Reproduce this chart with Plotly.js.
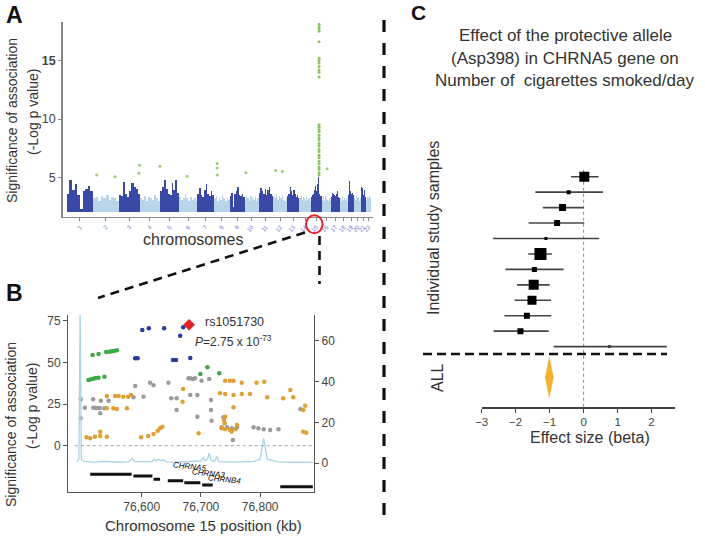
<!DOCTYPE html>
<html><head><meta charset="utf-8">
<script src="https://cdn.plot.ly/plotly-3.0.1.min.js"></script>
<style>html,body{margin:0;padding:0;background:#fff}#c{width:705px;height:536px}</style>
</head><body><div id="c"></div>
<script>
// ---------- Panel A: Manhattan plot data ----------
const chromNames = ['1','2','3','4','5','6','7','8','9','10','11','12','13','14','15','16','17','18','19','20','21','22'];
const chromLenMb = [249,243,198,191,181,171,159,146,141,135,135,133,115,107,102,90,81,78,59,63,48,51];
// estimated upper envelope of -log10 p in 10 bins per chromosome
const chromTop = [
  [3.6,4.8,3.9,4.4,3.5,2.3,3.8,4.0,4.3,3.8],
  [3.2,3.3,3.0,3.4,3.2,3.5,3.1,3.3,3.2,3.0],
  [3.5,3.4,4.6,3.6,3.3,3.8,4.5,4.2,4.0,3.6],
  [3.2,3.1,3.4,3.0,3.3,3.2,3.1,3.5,3.2,3.0],
  [3.8,4.2,4.8,4.0,3.6,3.5,4.5,3.9,4.8,3.7],
  [3.3,3.1,3.2,3.6,3.2,3.0,3.3,3.1,3.2,3.0],
  [3.6,4.1,3.5,3.3,3.9,4.4,3.6,3.4,3.8,3.5],
  [3.2,3.4,3.0,3.3,3.1,3.5,3.2,3.0,3.2,3.1],
  [3.4,3.7,2.5,3.6,3.8,4.2,3.5,3.4,3.6,3.3],
  [3.1,3.3,3.2,3.0,3.4,3.2,3.1,3.3,3.0,3.2],
  [3.7,4.1,3.8,3.6,4.0,3.5,3.9,4.2,3.6,3.4],
  [3.3,3.2,3.6,3.1,3.4,3.2,3.5,3.1,3.0,3.2],
  [3.4,3.6,4.2,3.8,3.5,3.9,3.6,3.3,3.5,3.2],
  [3.2,3.4,3.1,3.3,3.2,3.0,3.4,3.1,3.2,3.0],
  [3.3,3.5,3.6,3.9,4.3,3.8,4.4,5.0,3.6,3.4],
  [3.2,3.1,3.3,3.0,3.4,3.2,3.1,3.0,3.2,3.1],
  [3.3,3.7,3.6,3.9,3.5,3.4,3.6,3.8,3.3,3.2],
  [3.1,3.2,3.0,3.3,3.1,3.2,3.0,3.1,3.2,3.0],
  [3.5,4.4,4.7,4.0,3.8,3.6,3.4,3.7,3.5,3.3],
  [3.2,3.3,3.1,3.4,3.0,3.2,3.3,3.1,3.0,3.2],
  [3.6,4.2,4.5,4.1,3.8,3.5,3.4,3.9,3.6,3.3],
  [3.2,3.1,3.3,3.0,3.2,3.1,3.4,3.0,3.2,3.1]
];
const pBase = 2.0;
// suggestive hits (chromosome index, position Mb, -log10 p)
const hitChrom = [2,2,3,3,4,6,8,8,8,10,12,12,16];
const hitPosMb = [34,207,195,190,190,76,29,27,30,12,24,87,53];
const hitLogP  = [5.2,5.05,6.05,5.35,5.95,5.1,6.2,5.8,5.2,5.4,5.6,5.5,5.75];
// CHRNA5 locus on chromosome 15
const locusChrom = 15, locusPosMb = 78.8;
const locusLogP = [18.1,17.9,17.7,17.5,16.6,15.2,15.0,14.8,14.5,14.2,14.0,13.6,9.5,9.3,9.1,8.9,8.6,8.4,8.2,7.9,7.7,7.4,7.2,6.9,6.7,6.4,6.2,5.9,5.7,5.4,5.2];

// ---------- Panel B: regional plot data ----------
const leadKb = [76680], leadLogP = [72.56];
const blueKb = [76601,76612,76638,76670,76665,76589,76593,76653,76658,76682];
const blueLogP = [69.4,70.4,70.4,71.0,66.0,52.4,52.4,51.4,51.4,52.6];
const greenKb = [76517,76527,76540,76545,76549,76553,76558,76510,76514,76518,76522,76527,76537,76699,76711,76731];
const greenLogP = [54.4,55,56.2,56.4,56.6,56.8,57.2,39.4,39.8,40.2,40.6,40.8,41.4,43,47,43.4];
const grayKb = [76497,76518,76531,76544,76504,76518,76522,76525,76529,76537,76530,76497,76589,76614,76620,76645,76586,76603,76650,76659,76659,76679,76686,76682,76690,76701,76714,76682,76694,76717,76717,76694,76718,76738,76735,76744,76752,76761,76754,76789,76797,76806,76817,76831,76868];
const grayLogP = [27.8,27.8,27,27,22.8,22.8,22.6,22.6,22.6,22.4,19.4,16.4,35.8,37.8,36.2,37.8,29,29.4,28.4,28.4,21.4,40.4,40,40.4,40.4,39,40,30.4,30.4,27.4,21.4,17.4,15,17,11,11,10.4,11,3.4,11,10.4,9.8,9.4,9.8,22];
const orangeKb = [76507,76513,76521,76530,76541,76530,76541,76555,76561,76569,76577,76582,76541,76552,76558,76575,76599,76611,76620,76627,76631,76635,76670,76669,76741,76749,76755,76769,76794,76807,76732,76741,76755,76769,76783,76812,76839,76856,76851,76755,76876,76873,76741,76739,76740,76735,76741,76749,76758,76761,76752,76696,76873,76878];
const orangeLogP = [5,4.4,5.4,5.8,5.4,8.4,29.8,29.8,29.8,29.4,29.4,30.4,22.4,22.4,22,22.4,5,5.8,7,9,10.4,11.4,34,26.4,39,39,39,37.8,37.8,38.4,31.4,31,30.4,31,31,29,28.4,29,33.4,23,24,21.4,17.4,15.4,13.4,10.4,9.8,9.4,9.8,12.4,8.4,7.4,8.4,7.8];
const recombKb = [76490,76494,76496,76498,76503,76520,76540,76560,76578,76582,76584,76588,76605,76617,76621,76624,76628,76632,76637,76642,76660,76690,76700,76704,76707,76711,76714,76717,76723,76727,76730,76760,76790,76800,76806,76812,76830,76860,76890];
const recombRate = [0.8,2,75,2,0.9,0.6,0.9,0.5,0.8,2.2,2.4,0.8,0.6,0.8,1.8,1.2,1.9,1.4,1.6,0.7,0.6,0.8,1.1,2.8,1.2,2,4.9,1.5,0.9,3.3,0.8,0.6,0.9,2,12.2,2,0.7,0.5,0.4];
const geneStartKb = [76513,76586,76620,76644,76672,76702,76834];
const geneEndKb   = [76583,76618,76631,76670,76699,76720,76889];
const geneTrackY  = [-17.2,-18.2,-20.2,-21,-22.2,-23.6,-24.6];
const geneLabels  = ['CHRNA5','CHRNA3','CHRNB4'];
const geneLabelKb = [76648,76680,76707];
const geneLabelY  = [-12.6,-16.6,-20.2];

// ---------- Panel C: forest plot data ----------
const studyEst = [0.02,-0.44,-0.62,-0.78,-1.11,-1.27,-1.45,-1.47,-1.52,-1.67,-1.86,0.76];
const studyLo  = [-0.37,-1.42,-1.2,-1.62,-2.67,-1.63,-2.3,-1.96,-2.03,-2.33,-2.65,-0.88];
const studyHi  = [0.44,0.57,0.0,0.02,0.46,-0.93,-0.59,-1.0,-0.96,-0.95,-1.03,2.45];
const studyWeight = [10,4,7,6,3,12,5,10,9,6,6,3];
const allEst = -1.01, allLo = -1.13, allHi = -0.89;

// ---------- build traces ----------
const W = 705, H = 536;
const px = x => x / W, py = y => 1 - y / H;
const chromStart = [];
let acc = 0;
chromLenMb.forEach(l => { chromStart.push(acc); acc += l; });
const genomeLen = acc;
const chromCenter = chromLenMb.map((l, i) => chromStart[i] + l / 2);

const traces = [];
const dark = {x: [], y: [], w: []}, light = {x: [], y: [], w: []};
chromTop.forEach((arr, i) => {
  const bw = chromLenMb[i] / arr.length;
  const tgt = (i % 2 === 0) ? dark : light;
  arr.forEach((v, j) => {
    tgt.x.push(chromStart[i] + (j + 0.5) * bw);
    tgt.y.push(v - pBase);
    tgt.w.push(bw * 1.02);
  });
});
traces.push({type: 'bar', x: light.x, y: light.y, width: light.w, base: pBase, xaxis: 'x', yaxis: 'y',
  marker: {color: '#b8d4ea', line: {width: 0}}, hoverinfo: 'skip'});
traces.push({type: 'bar', x: dark.x, y: dark.y, width: dark.w, base: pBase, xaxis: 'x', yaxis: 'y',
  marker: {color: '#3a48a6', line: {width: 0}}, hoverinfo: 'skip'});
traces.push({type: 'scatter', mode: 'markers', xaxis: 'x', yaxis: 'y',
  x: hitChrom.map((c, k) => chromStart[c - 1] + hitPosMb[k]), y: hitLogP,
  marker: {color: '#9ccc78', size: 3}});
traces.push({type: 'scatter', mode: 'markers', xaxis: 'x', yaxis: 'y',
  x: locusLogP.map(() => chromStart[locusChrom - 1] + locusPosMb), y: locusLogP,
  marker: {color: '#8cc464', size: 3}});

// Panel B
traces.push({type: 'scatter', mode: 'lines', x: recombKb, y: recombRate, xaxis: 'x2', yaxis: 'y3',
  line: {color: '#a9d3e6', width: 1.3}});
const mk = (x, y, c, s, sym) => ({type: 'scatter', mode: 'markers', x: x, y: y, xaxis: 'x2', yaxis: 'y2',
  marker: {color: c, size: s, symbol: sym || 'circle'}});
traces.push(mk(grayKb, grayLogP, '#9b9b9b', 4.5));
traces.push(mk(orangeKb, orangeLogP, '#dea035', 4.5));
traces.push(mk(greenKb, greenLogP, '#3fa84a', 4.5));
traces.push(mk(blueKb, blueLogP, '#283a9c', 4.5));
traces.push(mk(leadKb, leadLogP, '#e3212b', 9, 'diamond'));
const gx = [], gy = [];
geneStartKb.forEach((s, i) => { gx.push(s, geneEndKb[i], null); gy.push(geneTrackY[i], geneTrackY[i], null); });
traces.push({type: 'scatter', mode: 'lines', x: gx, y: gy, xaxis: 'x2', yaxis: 'y2',
  line: {color: '#111', width: 3}, connectgaps: false});

// Panel C
const rows = studyEst.map((_, i) => i);
traces.push({type: 'scatter', mode: 'markers', x: studyEst, y: rows, xaxis: 'x3', yaxis: 'y4',
  error_x: {type: 'data', symmetric: false, array: studyHi.map((h, i) => h - studyEst[i]),
    arrayminus: studyLo.map((l, i) => studyEst[i] - l), color: '#444', thickness: 1.6, width: 0},
  marker: {symbol: 'square', size: studyWeight, opacity: 1, line: {width: 0},
    color: studyEst.map((_, i) => i === 11 ? '#444' : '#000')}});
const allRow = 13, allHalf = 1.3;
traces.push({type: 'scatter', mode: 'lines', xaxis: 'x3', yaxis: 'y4',
  x: [allLo, allEst, allHi, allEst, allLo], y: [allRow, allRow - allHalf, allRow, allRow + allHalf, allRow],
  fill: 'toself', fillcolor: '#f0b22e', line: {color: '#f0b22e', width: 0.5}});

// ---------- layout ----------
const fontFam = '"Liberation Sans", Arial, sans-serif';
const ann = (t, x, y, o) => Object.assign({text: t, x: px(x), y: py(y), xref: 'paper', yref: 'paper',
  xanchor: 'center', yanchor: 'middle',
  showarrow: false, font: {size: 14, color: '#333', family: fontFam}}, o || {});
const annotations = [
  ann('<b>A</b>', 14, 15, {font: {size: 23, color: '#111', family: fontFam}}),
  ann('<b>B</b>', 14, 293, {font: {size: 23, color: '#111', family: fontFam}}),
  ann('<b>C</b>', 418, 13, {font: {size: 21, color: '#111', family: fontFam}}),
  ann('Significance of association', 12, 121, {textangle: -90, font: {size: 14, color: '#333', family: fontFam}}),
  ann('(-Log p value)', 33, 112, {textangle: -90, font: {size: 14, color: '#333', family: fontFam}}),
  ann('chromosomes', 193, 240, {font: {size: 16, color: '#333', family: fontFam}}),
  ann('Significance of association', 11, 425, {textangle: -90, font: {size: 14, color: '#333', family: fontFam}}),
  ann('(-Log p value)', 32, 406, {textangle: -90, font: {size: 14, color: '#333', family: fontFam}}),
  ann('Chromosome 15 position (kb)', 203, 525, {font: {size: 15, color: '#333', family: fontFam}}),
  ann('Effect of the protective allele', 565, 35, {font: {size: 17, color: '#333', family: fontFam}}),
  ann('(Asp398) in CHRNA5 gene on', 565, 58, {font: {size: 17, color: '#333', family: fontFam}}),
  ann('Number of  cigarettes smoked/day', 564, 80, {font: {size: 17, color: '#333', family: fontFam}}),
  ann('Individual study samples', 433, 228, {textangle: -90, font: {size: 16, color: '#333', family: fontFam}}),
  ann('ALL', 437, 378, {textangle: -90, font: {size: 16, color: '#333', family: fontFam}}),
  ann('Effect size (beta)', 590, 437, {font: {size: 16, color: '#333', family: fontFam}}),
  {text: 'rs1051730', x: 76704, y: 74.4, xref: 'x2', yref: 'y2', xanchor: 'left', yanchor: 'middle', showarrow: false,
    font: {size: 12.5, color: '#333', family: fontFam}},
  {text: '<i>P</i>=2.75 x 10<sup>-73</sup>', x: 76687, y: 63, xref: 'x2', yref: 'y2', xanchor: 'left', yanchor: 'middle', showarrow: false,
    font: {size: 12, color: '#333', family: fontFam}}
];
geneLabels.forEach((g, i) => {
  annotations.push({text: '<i>' + g + '</i>', x: geneLabelKb[i], y: geneLabelY[i], xref: 'x2', yref: 'y2',
    xanchor: 'left', yanchor: 'middle', showarrow: false, textangle: 6, font: {size: 8, color: '#000', family: fontFam}});
});

const dashLine = (x0, y0, x1, y1, w, dash) => ({type: 'line', xref: 'paper', yref: 'paper',
  x0: px(x0), y0: py(y0), x1: px(x1), y1: py(y1), line: {color: '#111', width: w, dash: dash}});
const shapes = [
  dashLine(384, 20, 384, 518, 3.2, '12px,11px'),
  dashLine(305, 232.5, 98, 298, 2.6, '9px,6px'),
  dashLine(319.5, 236, 319.5, 284, 2.6, '9px,6px'),
  dashLine(423, 354, 667, 354, 2.6, '9px,5px'),
  {type: 'circle', xref: 'paper', yref: 'paper', x0: px(306), x1: px(322.6), y0: py(233.3), y1: py(215.2),
    line: {color: '#e0242a', width: 2}},
  {type: 'line', xref: 'x2', yref: 'y2', x0: 76487, x1: 76890, y0: 0, y1: 0,
    line: {color: '#a0a0a0', width: 1, dash: 'dot'}},
  {type: 'line', xref: 'x3', yref: 'y4', x0: 0, x1: 0, y0: -0.45, y1: 14.93,
    line: {color: '#888', width: 1, dash: 'dot'}, layer: 'below'}
];

const tickF = s => ({size: s, color: '#444', family: fontFam});
const layout = {
  width: W, height: H, margin: {l: 0, r: 0, t: 0, b: 0}, showlegend: false,
  paper_bgcolor: '#fff', plot_bgcolor: 'rgba(0,0,0,0)', barmode: 'overlay', bargap: 0,
  font: {family: fontFam, color: '#333'},
  xaxis: {domain: [px(62.7), px(373)], range: [-38, genomeLen + 16], anchor: 'y',
    tickmode: 'array', tickvals: chromCenter, ticktext: chromNames, tickangle: -50,
    tickfont: {size: 6, color: '#7070cc', family: fontFam}, ticks: 'outside', ticklen: 3, tickcolor: '#888',
    showline: true, linecolor: '#888', linewidth: 1.5, showgrid: false, zeroline: false},
  yaxis: {domain: [py(216.7), py(22)], range: [1.64, 18.3], anchor: 'x',
    tickmode: 'array', tickvals: [5, 10, 15], ticktext: ['5', '10', '<b>15</b>'], tickfont: tickF(12.5),
    ticks: 'outside', ticklen: 3, tickcolor: '#888', showline: true, linecolor: '#888', linewidth: 1.5,
    showgrid: false, zeroline: false},
  xaxis2: {domain: [px(68.3), px(314)], range: [76476, 76891], anchor: 'y2',
    tickmode: 'array', tickvals: [76600, 76700, 76800], tickformat: ',', tickfont: tickF(12),
    ticks: 'outside', ticklen: 4, tickcolor: '#555', showline: true, linecolor: '#555', linewidth: 1.2,
    showgrid: false, zeroline: false},
  yaxis2: {domain: [py(491.7), py(315)], range: [-27.6, 78.4], anchor: 'x2',
    tickmode: 'array', tickvals: [0, 25, 50, 75], tickfont: tickF(12),
    ticks: 'outside', ticklen: 4, tickcolor: '#555', showline: true, linecolor: '#555', linewidth: 1.2,
    showgrid: false, zeroline: false},
  yaxis3: {overlaying: 'y2', side: 'right', anchor: 'x2', range: [-13.9, 72.5],
    tickmode: 'array', tickvals: [0, 20, 40, 60], tickfont: tickF(12),
    ticks: 'outside', ticklen: 4, tickcolor: '#555', showline: true, linecolor: '#555', linewidth: 1.2,
    showgrid: false, zeroline: false},
  xaxis3: {domain: [px(481.7), px(675)], range: [-3, 2.69], anchor: 'y4',
    tickmode: 'array', tickvals: [-3, -2, -1, 0, 1, 2], tickfont: tickF(11.5),
    ticks: 'outside', ticklen: 4, tickcolor: '#444', showline: true, linecolor: '#444', linewidth: 1.3,
    showgrid: false, zeroline: false},
  yaxis4: {domain: [py(407.3), py(169)], range: [14.93, -0.5], anchor: 'x3', visible: false},
  annotations: annotations, shapes: shapes
};
Plotly.newPlot('c', traces, layout, {staticPlot: true, displayModeBar: false});
</script></body></html>
